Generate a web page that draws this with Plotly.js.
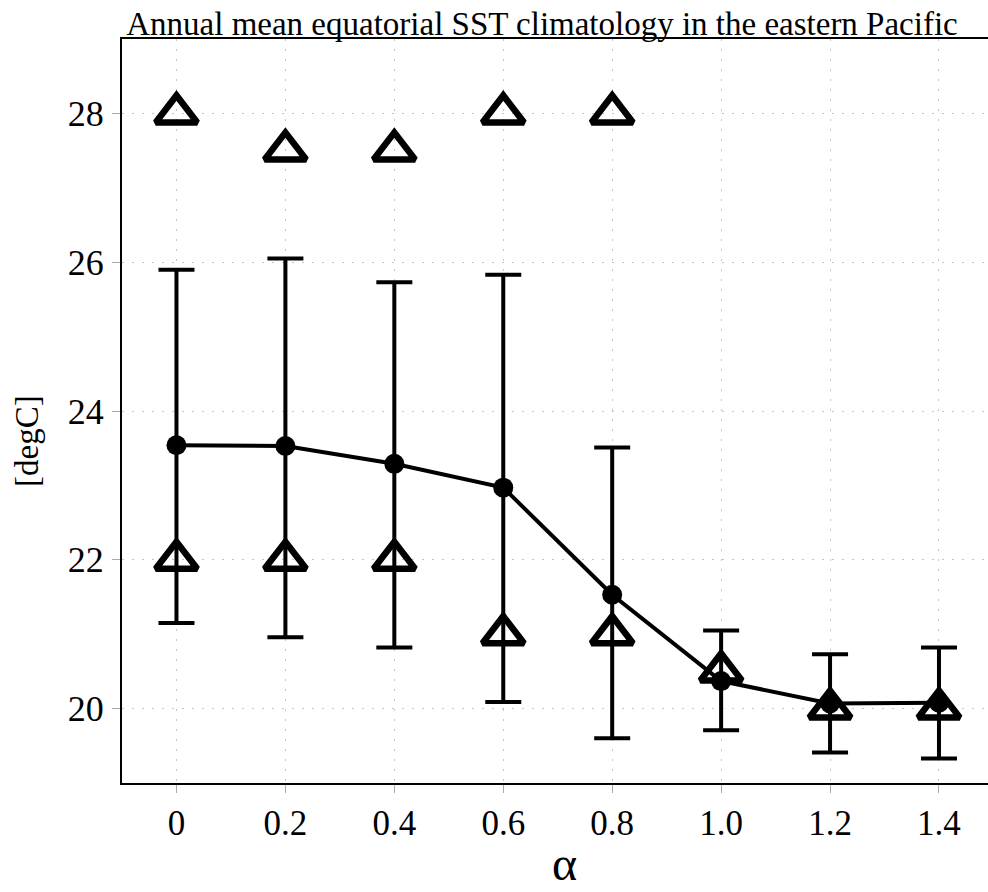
<!DOCTYPE html>
<html>
<head>
<meta charset="utf-8">
<script src="https://cdn.plot.ly/plotly-3.0.1.min.js"></script>
<style>html,body{margin:0;padding:0;background:#fff;}#chart{width:988px;height:892px;}</style>
</head>
<body>
<div id="chart"></div>
<script>
// ---- data ----
const alpha = [0, 0.2, 0.4, 0.6, 0.8, 1.0, 1.2, 1.4];
const alphaLabels = ["0", "0.2", "0.4", "0.6", "0.8", "1.0", "1.2", "1.4"];
const meanSST  = [23.54, 23.53, 23.29, 22.97, 21.53, 20.37, 20.07, 20.08];
const upperSST = [25.90, 26.05, 25.73, 25.83, 23.51, 21.05, 20.73, 20.82];
const lowerSST = [21.15, 20.96, 20.82, 20.09, 19.60, 19.71, 19.41, 19.33];
const warmAlpha = [0, 0.2, 0.4, 0.6, 0.8];
const warmSST   = [28, 27.5, 27.5, 28, 28];
const coldAlpha = [0, 0.2, 0.4, 0.6, 0.8, 1.0, 1.2, 1.4];
const coldSST   = [22, 22, 22, 21, 21, 20.5, 20, 20];
const yTicks = [20, 22, 24, 26, 28];

const errPlus  = meanSST.map((m, i) => upperSST[i] - m);
const errMinus = meanSST.map((m, i) => m - lowerSST[i]);

const serif = "Liberation Serif, Times New Roman, serif";
const triMarker = {symbol: "triangle-up-open", size: 36, color: "#000", line: {color: "#000", width: 6.5}};

const traces = [
  {
    x: alpha, y: meanSST, type: "scatter", mode: "lines+markers",
    line: {color: "#000", width: 4},
    marker: {color: "#000", size: 20, symbol: "circle"},
    error_y: {type: "data", symmetric: false, array: errPlus, arrayminus: errMinus,
              color: "#000", thickness: 4, width: 18},
    showlegend: false, hoverinfo: "skip"
  },
  {
    x: warmAlpha, y: warmSST, type: "scatter", mode: "markers",
    marker: triMarker, showlegend: false, hoverinfo: "skip"
  },
  {
    x: coldAlpha, y: coldSST, type: "scatter", mode: "markers",
    marker: triMarker, showlegend: false, hoverinfo: "skip"
  }
];

const layout = {
  width: 988, height: 892,
  margin: {l: 122, r: 0, t: 39, b: 109, pad: 0},
  paper_bgcolor: "#fff", plot_bgcolor: "#fff",
  font: {family: serif, color: "#000"},
  title: {
    text: "Annual mean equatorial SST climatology in the eastern Pacific",
    font: {family: serif, size: 33, color: "#000"},
    xref: "container", x: 542 / 988, xanchor: "center",
    yref: "container", y: 1 - 23 / 892, yanchor: "middle"
  },
  xaxis: {
    range: [-0.1, 1.49],
    tickvals: alpha, ticktext: alphaLabels,
    tickfont: {family: serif, size: 35, color: "#000"},
    ticks: "outside", ticklen: 8, tickwidth: 1, tickcolor: "#aaa",
    ticklabelstandoff: 0,
    showline: true, linecolor: "#000", linewidth: 2, mirror: true,
    showgrid: true, gridcolor: "#c4c4c4", griddash: "2px,8px", gridwidth: 1,
    zeroline: false, fixedrange: true
  },
  yaxis: {
    range: [19, 29],
    tickvals: yTicks,
    tickfont: {family: serif, size: 36, color: "#000"},
    ticks: "outside", ticklen: 8, tickwidth: 1, tickcolor: "#aaa",
    ticklabelstandoff: 1,
    showline: true, linecolor: "#000", linewidth: 2, mirror: false,
    showgrid: true, gridcolor: "#c4c4c4", griddash: "2px,8px", gridwidth: 1,
    zeroline: false, fixedrange: true
  },
  annotations: [
    {
      text: "[degC]", xref: "paper", yref: "paper",
      x: -95 / 866, y: (783 - 441) / 744, xanchor: "center", yanchor: "middle",
      textangle: -90, showarrow: false,
      font: {family: serif, size: 33, color: "#000"}
    },
    {
      text: "α", xref: "paper", yref: "paper",
      x: (564 - 122) / 866, y: -(892 - 783) / 744, xanchor: "center", yanchor: "bottom",
      showarrow: false,
      font: {family: serif, size: 48, color: "#000"}
    }
  ],
  showlegend: false
};

Plotly.newPlot("chart", traces, layout, {staticPlot: true, displayModeBar: false});
</script>
</body>
</html>
